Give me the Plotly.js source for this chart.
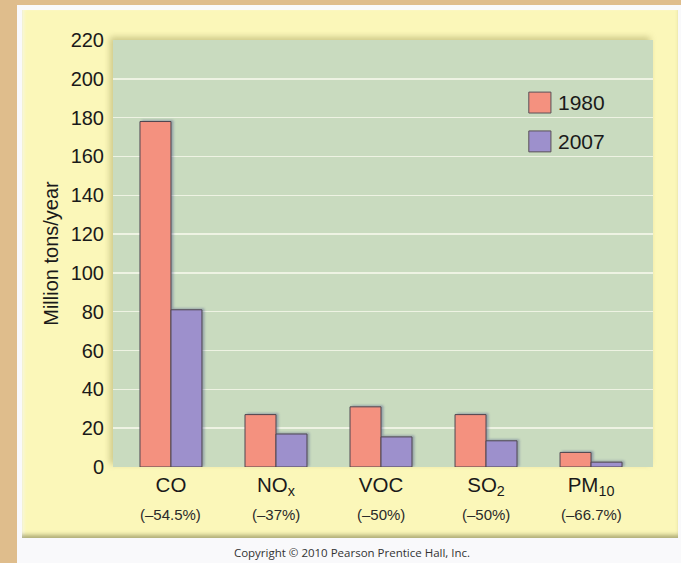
<!DOCTYPE html>
<html>
<head>
<meta charset="utf-8">
<script src="https://cdn.plot.ly/plotly-3.0.1.min.js"></script>
<style>
  html, body { margin: 0; padding: 0; }
  body { width: 681px; height: 563px; background: #dfbd8c; position: relative; overflow: hidden; }
  #sheet { position: absolute; left: 17px; top: 5px; width: 664px; height: 558px; background: #f9f9fb; }
  #panel { position: absolute; left: 22px; top: 10px; width: 656px; height: 528px; background: #fbf7b9;
           box-shadow: inset 0 -5px 4px -2px rgba(110,110,60,0.55), inset 3px 0 3px -1px rgba(255,255,240,0.8); }
  #chart { position: absolute; left: 0; top: 0; width: 656px; height: 528px; }
  #credit { position: absolute; left: 17px; top: 545px; width: 670px; text-align: center;
            font-family: "Open Sans", sans-serif; font-size: 11.5px; color: #333; }
  #chart .bglayer .bg { filter: drop-shadow(-3px -3px 3px rgba(120,115,50,0.35)); }
  #chart .barlayer { filter: drop-shadow(2px -1px 1.2px rgba(85,95,140,0.45)); }
</style>
</head>
<body>
<div id="sheet"></div>
<div id="panel"><div id="chart"></div></div>
<div id="credit">Copyright © 2010 Pearson Prentice Hall, Inc.</div>
<script>
  // Pollutants and their emissions (million tons per year)
  const pollutants = ['CO', 'NO<sub>x</sub>', 'VOC', 'SO<sub>2</sub>', 'PM<sub>10</sub>'];
  const changes = ['(–54.5%)', '(–37%)', '(–50%)', '(–50%)', '(–66.7%)'];
  const years = ['1980', '2007'];
  const values1980 = [178, 27, 31, 27, 7.5];
  const values2007 = [81, 17, 15.5, 13.5, 2.5];
  const colors = ['#f4917f', '#9d90cc'];
  const yTicks = [0, 20, 40, 60, 80, 100, 120, 140, 160, 180, 200, 220];

  const FONT = 'Liberation Sans, Arial, sans-serif';
  const idx = pollutants.map((_, i) => i);
  const outline = { color: '#4f4650', width: 1 };

  const traces = [values1980, values2007].map((vals, k) => ({
    type: 'bar',
    name: years[k],
    x: idx,
    y: vals,
    marker: { color: colors[k], line: outline },
    hoverinfo: 'skip'
  }));

  // percentage change under each category name
  const annotations = changes.map((t, i) => ({
    x: i, xref: 'x', y: -0.112, yref: 'paper',
    text: t, showarrow: false,
    font: { family: FONT, size: 15, color: '#2a2a2a' },
    xanchor: 'center', yanchor: 'middle'
  }));

  // legend drawn as swatches with labels
  const swatchY = [[0.829, 0.878], [0.738, 0.787]];
  const shapes = [];
  years.forEach((yr, k) => {
    shapes.push({
      type: 'rect', xref: 'paper', yref: 'paper',
      x0: 0.770, x1: 0.811, y0: swatchY[k][0], y1: swatchY[k][1],
      fillcolor: colors[k], line: { color: '#5a5058', width: 1 }
    });
    annotations.push({
      xref: 'paper', yref: 'paper', x: 0.821, y: (swatchY[k][0] + swatchY[k][1]) / 2,
      text: yr, showarrow: false, xanchor: 'left', yanchor: 'middle',
      font: { family: FONT, size: 21, color: '#1a1a1a' }
    });
  });

  const layout = {
    width: 656, height: 528,
    margin: { l: 91, r: 25, t: 30, b: 71 },
    paper_bgcolor: 'rgba(0,0,0,0)',
    plot_bgcolor: '#c9dbbf',
    barmode: 'group',
    bargap: 0.41,
    bargroupgap: 0,
    showlegend: false,
    font: { family: FONT, color: '#1a1a1a' },
    xaxis: {
      range: [-0.552, 4.59],
      tickmode: 'array', tickvals: idx, ticktext: pollutants,
      tickfont: { size: 20.5, color: '#1a1a1a' },
      showgrid: false, zeroline: false, showline: false, ticks: '',
      ticklabelstandoff: 3,
      fixedrange: true
    },
    yaxis: {
      range: [0, 220],
      tickmode: 'array', tickvals: yTicks,
      tickfont: { size: 20, color: '#1a1a1a' },
      showgrid: true, gridcolor: '#eef3e3', gridwidth: 1.5,
      zeroline: false, showline: false, ticks: '',
      ticklabelstandoff: 8,
      title: { text: 'Million tons/year', font: { size: 20, color: '#1a1a1a' }, standoff: 6 },
      fixedrange: true
    },
    shapes: shapes,
    annotations: annotations
  };

  Plotly.newPlot('chart', traces, layout, { displayModeBar: false, staticPlot: true });
</script>
</body>
</html>
